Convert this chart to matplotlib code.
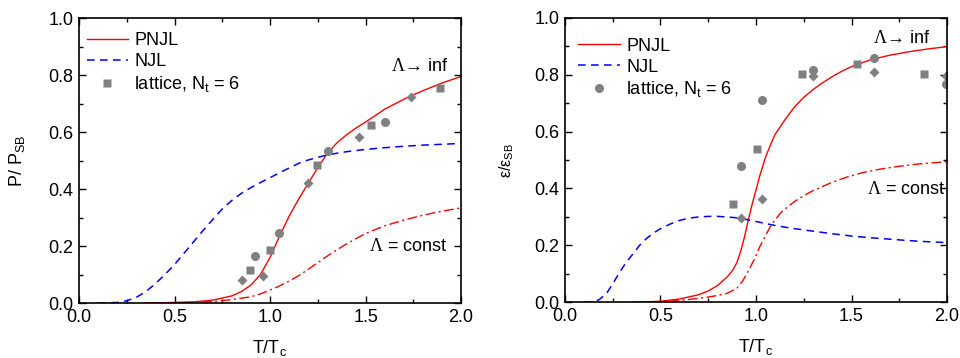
import matplotlib
matplotlib.use('Agg')
import matplotlib.pyplot as plt
from matplotlib.ticker import MultipleLocator

plt.rcParams['font.family'] = ['Liberation Sans', 'DejaVu Sans']
plt.rcParams['mathtext.fontset'] = 'custom'
plt.rcParams['mathtext.rm'] = 'Liberation Sans'
plt.rcParams['mathtext.it'] = 'Liberation Sans:italic'
plt.rcParams['mathtext.sf'] = 'Liberation Serif'

# ---- pressure panel ----
p_pnjl_t = [0.35, 0.5, 0.6, 0.7, 0.8, 0.85, 0.9, 0.95, 1.0, 1.05, 1.1, 1.15, 1.2, 1.25, 1.3,
            1.35, 1.4, 1.45, 1.5, 1.6, 1.7, 1.8, 1.9, 2.0]
p_pnjl = [0.0, 0.002, 0.004, 0.01, 0.025, 0.04, 0.063, 0.1, 0.16, 0.235, 0.305, 0.365, 0.42,
          0.475, 0.525, 0.562, 0.59, 0.614, 0.635, 0.68, 0.715, 0.745, 0.772, 0.795]

p_njl_t = [0.1, 0.2, 0.25, 0.3, 0.35, 0.4, 0.45, 0.5, 0.55, 0.6, 0.65, 0.7, 0.75, 0.8, 0.85,
           0.9, 0.95, 1.0, 1.05, 1.1, 1.15, 1.2, 1.3, 1.4, 1.5, 1.6, 1.7, 1.8, 2.0]
p_njl = [0.0, 0.002, 0.008, 0.02, 0.04, 0.068, 0.1, 0.135, 0.175, 0.215, 0.255, 0.293, 0.33,
         0.36, 0.385, 0.405, 0.423, 0.44, 0.457, 0.474, 0.49, 0.502, 0.52, 0.531, 0.539,
         0.545, 0.55, 0.554, 0.56]

p_const_t = [0.35, 0.6, 0.7, 0.8, 0.9, 0.95, 1.0, 1.05, 1.1, 1.15, 1.2, 1.25, 1.3, 1.35, 1.4,
             1.45, 1.5, 1.6, 1.7, 1.8, 1.9, 2.0]
p_const = [0.0, 0.002, 0.005, 0.012, 0.022, 0.032, 0.045, 0.06, 0.077, 0.096, 0.118, 0.142,
           0.165, 0.187, 0.207, 0.226, 0.244, 0.271, 0.291, 0.308, 0.322, 0.334]

p_sq_t = [0.895, 1.0, 1.245, 1.531, 1.892]
p_sq = [0.117, 0.185, 0.485, 0.626, 0.753]
p_ci_t = [0.92, 1.045, 1.304, 1.601]
p_ci = [0.166, 0.247, 0.535, 0.634]
p_di_t = [0.853, 0.962, 1.199, 1.465, 1.738]
p_di = [0.080, 0.096, 0.420, 0.581, 0.722]

# ---- energy density panel ----
e_pnjl_t = [0.35, 0.5, 0.6, 0.7, 0.75, 0.8, 0.85, 0.88, 0.9, 0.92, 0.94, 0.96, 0.98, 1.0,
            1.02, 1.05, 1.08, 1.1, 1.15, 1.2, 1.25, 1.3, 1.35, 1.4, 1.45, 1.5, 1.6, 1.7,
            1.8, 1.9, 2.0]
e_pnjl = [0.0, 0.004, 0.012, 0.027, 0.04, 0.06, 0.09, 0.115, 0.14, 0.18, 0.23, 0.29, 0.345,
          0.395, 0.445, 0.51, 0.56, 0.59, 0.64, 0.685, 0.72, 0.748, 0.772, 0.793, 0.812,
          0.828, 0.852, 0.868, 0.88, 0.89, 0.898]

e_njl_t = [0.1, 0.15, 0.18, 0.218, 0.25, 0.288, 0.32, 0.358, 0.39, 0.428, 0.46, 0.498, 0.55,
           0.6, 0.65, 0.7, 0.75, 0.8, 0.85, 0.9, 0.95, 1.0, 1.1, 1.2, 1.3, 1.4, 1.5, 1.6,
           1.7, 1.8, 1.9, 2.0]
e_njl = [0.0, 0.002, 0.01, 0.032, 0.065, 0.108, 0.14, 0.172, 0.2, 0.225, 0.242, 0.258, 0.275,
         0.288, 0.296, 0.3, 0.302, 0.302, 0.3, 0.297, 0.291, 0.284, 0.27, 0.259, 0.25, 0.241,
         0.233, 0.227, 0.222, 0.217, 0.213, 0.21]

e_const_t = [0.35, 0.5, 0.6, 0.7, 0.78, 0.85, 0.9, 0.93, 0.96, 0.99, 1.02, 1.05, 1.075, 1.1,
             1.13, 1.17, 1.21, 1.25, 1.3, 1.4, 1.48, 1.56, 1.65, 1.75, 1.85, 2.0]
e_const = [0.0, 0.002, 0.007, 0.014, 0.022, 0.032, 0.05, 0.075, 0.11, 0.15, 0.196, 0.235,
           0.266, 0.29, 0.315, 0.338, 0.358, 0.375, 0.393, 0.422, 0.441, 0.456, 0.468,
           0.478, 0.486, 0.494]

e_sq_t = [0.88, 1.004, 1.242, 1.53, 1.879]
e_sq = [0.344, 0.539, 0.803, 0.838, 0.802]
e_ci_t = [0.919, 1.032, 1.296, 1.616, 1.996]
e_ci = [0.479, 0.711, 0.815, 0.857, 0.766]
e_di_t = [0.919, 1.032, 1.296, 1.616, 1.996]
e_di = [0.297, 0.362, 0.794, 0.809, 0.795]

gray = '#808080'
fs = 13
dash = (0, (5, 3.5))
dashdot = (0, (7, 2.5, 1.5, 2.5))

fig = plt.figure(figsize=(9.6, 3.58), dpi=100)
ax1 = fig.add_axes([0.0823, 0.1536, 0.398, 0.796])
ax2 = fig.add_axes([0.5885, 0.1553, 0.398, 0.7955])


def style(ax):
    ax.set_xlim(0, 2.0)
    ax.set_ylim(0, 1.0)
    ax.xaxis.set_major_locator(MultipleLocator(0.5))
    ax.xaxis.set_minor_locator(MultipleLocator(0.25))
    ax.yaxis.set_major_locator(MultipleLocator(0.2))
    ax.yaxis.set_minor_locator(MultipleLocator(0.1))
    ax.xaxis.set_major_formatter(plt.FormatStrFormatter('%.1f'))
    ax.yaxis.set_major_formatter(plt.FormatStrFormatter('%.1f'))
    ax.tick_params(which='both', direction='in', top=True, right=True, labelsize=fs, width=1)
    ax.tick_params(which='major', length=5, pad=4)
    ax.tick_params(which='minor', length=3)
    for s in ax.spines.values():
        s.set_linewidth(1.2)
    ax.set_xlabel(r'T/T$_\mathrm{c}$', fontsize=fs, labelpad=9)


lam_inf = r'$\mathsf{\Lambda}$' + '→ inf'
lam_const = r'$\mathsf{\Lambda}$' + ' = const'

# left: pressure
ax1.plot(p_pnjl_t, p_pnjl, color='red', lw=1.0, label='PNJL')
ax1.plot(p_njl_t, p_njl, color='blue', lw=1.1, ls=dash, label='NJL')
ax1.plot(p_const_t, p_const, color='red', lw=1.0, ls=dashdot)
ax1.plot(p_sq_t, p_sq, 's', color=gray, ms=5.5, mec='none', label=r'lattice, N$_\mathrm{t}$ = 6')
ax1.plot(p_ci_t, p_ci, 'o', color=gray, ms=6.5, mec='none')
ax1.plot(p_di_t, p_di, 'D', color=gray, ms=5.5, mec='none')
style(ax1)
ax1.set_ylabel(r'P/ P$_\mathrm{SB}$', fontsize=fs, labelpad=15)
ax1.text(1.93, 0.83, lam_inf, fontsize=fs, ha='right', va='center')
ax1.text(1.93, 0.2, lam_const, fontsize=fs, ha='right', va='center')
ax1.legend(loc='upper left', bbox_to_anchor=(0.02, 0.95), frameon=False, fontsize=fs,
           handlelength=2.3, handletextpad=0.35, labelspacing=0.22, borderaxespad=0,
           borderpad=0)

# right: energy density
ax2.plot(e_pnjl_t, e_pnjl, color='red', lw=1.0, label='PNJL')
ax2.plot(e_njl_t, e_njl, color='blue', lw=1.1, ls=dash, label='NJL')
ax2.plot(e_const_t, e_const, color='red', lw=1.0, ls=dashdot)
ax2.plot(e_ci_t, e_ci, 'o', color=gray, ms=6.5, mec='none', label=r'lattice, N$_\mathrm{t}$ = 6')
ax2.plot(e_sq_t, e_sq, 's', color=gray, ms=5.5, mec='none')
ax2.plot(e_di_t, e_di, 'D', color=gray, ms=5.5, mec='none')
style(ax2)
ax2.set_ylabel(r'ε/ε$_\mathrm{SB}$', fontsize=11.5, labelpad=13)
ax2.text(1.91, 0.925, lam_inf, fontsize=fs, ha='right', va='center')
ax2.text(1.99, 0.398, lam_const, fontsize=fs, ha='right', va='center')
ax2.legend(loc='upper left', bbox_to_anchor=(0.035, 0.93), frameon=False, fontsize=fs,
           handlelength=2.3, handletextpad=0.35, labelspacing=0.22, borderaxespad=0,
           borderpad=0)

fig.savefig('out.png', dpi=100)
